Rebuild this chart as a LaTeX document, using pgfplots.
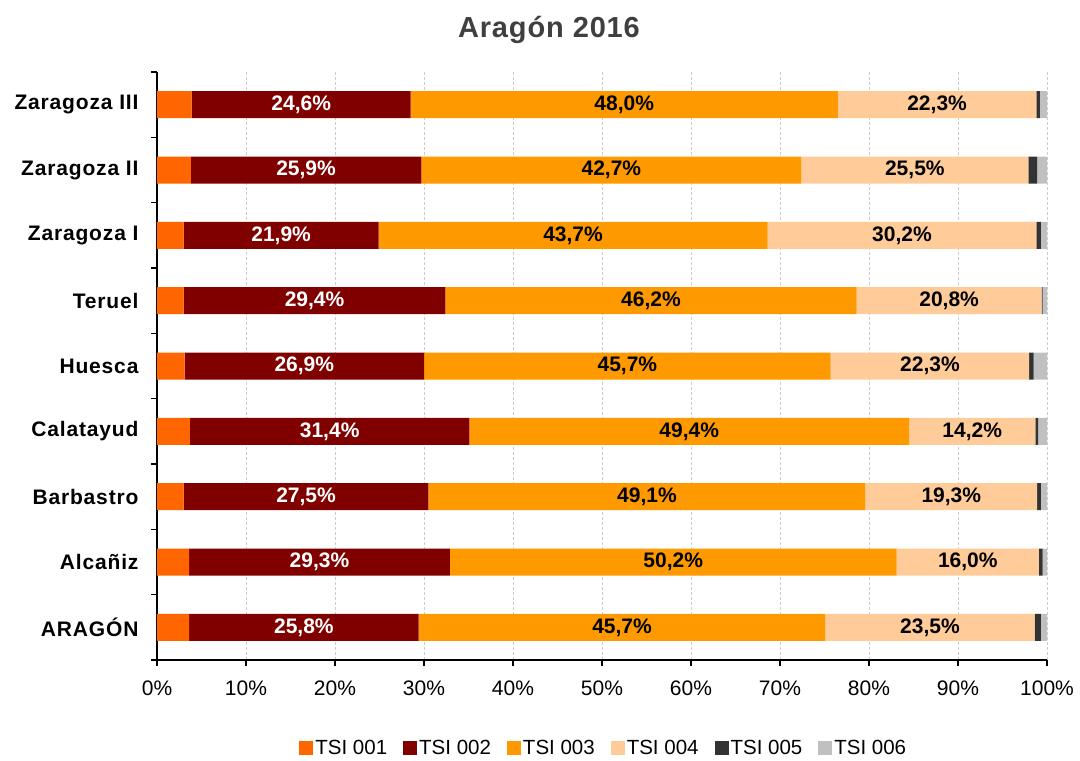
\documentclass[border=0pt]{standalone}
\usepackage{fontspec}
\setmainfont{Liberation Sans}
\newfontfamily\titlefont[LetterSpace=3]{Liberation Sans}
\newfontfamily\catfont[LetterSpace=4]{Liberation Sans}
\usepackage{pgfplots}
\usepackage{pgfplotstable}
\pgfplotsset{compat=1.18}
\definecolor{c1}{HTML}{FF6600}
\definecolor{c2}{HTML}{800000}
\definecolor{c3}{HTML}{FF9900}
\definecolor{c4}{HTML}{FFCC99}
\definecolor{c5}{HTML}{333333}
\definecolor{c6}{HTML}{C0C0C0}
\definecolor{titlegray}{HTML}{3F3F3F}
\pgfplotstableread{
y s1 s2 s3 s4 s5 s6
0 3.6 25.8 45.7 23.5 0.7 0.7
1 3.6 29.3 50.2 16.0 0.4 0.5
2 3.0 27.5 49.1 19.3 0.4 0.7
3 3.7 31.4 49.4 14.2 0.3 1.0
4 3.1 26.9 45.7 22.3 0.5 1.5
5 3.0 29.4 46.2 20.8 0.1 0.5
6 3.0 21.9 43.7 30.2 0.5 0.7
7 3.8 25.9 42.7 25.5 1.0 1.1
8 3.9 24.6 48.0 22.3 0.4 0.8
}\data
\pgfplotsset{
  mybar/.style={fill=#1, draw=none,
    legend image code/.code={\fill[##1] (0pt,-7pt) rectangle (14pt,7pt);}},
  mylab/.style 2 args={
    nodes near coords={\pgfmathprintnumber[fixed,fixed zerofill,precision=1,use comma]{\val}\%},
    visualization depends on={\thisrow{#1} \as \val},
    every node near coord/.append style={anchor=center, text=#2,
      font=\fontsize{21}{25}\selectfont\bfseries}
  }
}
\begin{document}
\begin{tikzpicture}
\begin{axis}[
  at={(157pt,101pt)}, anchor=south west,
  scale only axis, width=890pt, height=588pt,
  xbar stacked, bar width=27pt,
  xmin=0, xmax=100, ymin=-0.5, ymax=8.5,
  axis x line*=bottom, axis y line*=left,
  axis line style={-, line width=1.3pt, black},
  xtick={0,10,...,100},
  xticklabel={\pgfmathprintnumber{\tick}\%},
  /pgf/number format/assume math mode=true,
  xticklabel style={font=\fontsize{21}{25}\selectfont, text=black, yshift=-11pt},
  ytick={0,...,8},
  yticklabels={ARAG\'ON, Alca\~niz, Barbastro, Calatayud, Huesca, Teruel, Zaragoza I, Zaragoza II, Zaragoza III},
  yticklabel style={font=\fontsize{21}{25}\selectfont\catfont\bfseries, text=black, xshift=-9pt},
  minor ytick={-0.5,0.5,...,8.5},
  major y tick style={draw=none},
  tick align=outside,
  major tick length=6pt, minor tick length=6pt,
  tick style={line width=1.3pt, black},
  xmajorgrids,
  major grid style={gray!40, line width=0.8pt, dash pattern=on 3pt off 2pt},
  title={Aragón 2016},
  title style={at={(0.4404,1.0477)}, anchor=base, text=titlegray,
    font=\fontsize{29}{33}\selectfont\titlefont\bfseries},
  legend columns=6,
  legend style={at={(0.502,-0.1497)}, anchor=center, draw=none,
    font=\fontsize{20.5}{24}\selectfont,
    /tikz/every even column/.append style={column sep=14pt}},
]
\addplot[mybar=c1] table[x=s1,y=y]{\data};
\addplot[mybar=c2, mylab={s2}{white}] table[x=s2,y=y]{\data};
\addplot[mybar=c3, mylab={s3}{black}] table[x=s3,y=y]{\data};
\addplot[mybar=c4, mylab={s4}{black}] table[x=s4,y=y]{\data};
\addplot[mybar=c5] table[x=s5,y=y]{\data};
\addplot[mybar=c6] table[x=s6,y=y]{\data};
\legend{TSI 001, TSI 002, TSI 003, TSI 004, TSI 005, TSI 006}
\end{axis}
\pgfresetboundingbox
\path (0,0) rectangle (1080pt,761pt);
\end{tikzpicture}
\end{document}
